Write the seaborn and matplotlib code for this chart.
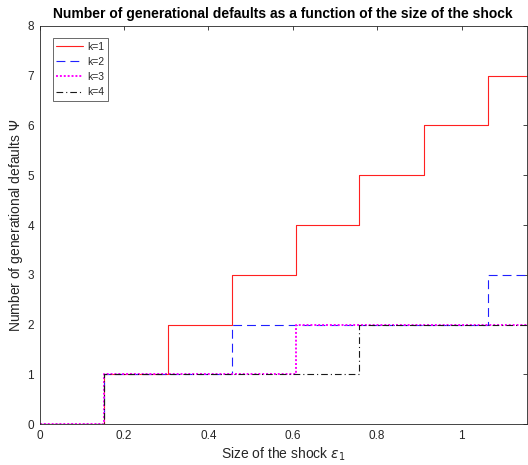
import matplotlib
matplotlib.use("Agg")
import matplotlib.pyplot as plt
import seaborn as sns
import pandas as pd
import numpy as np

sns.set_style("white")
plt.rcParams['font.family'] = ['Liberation Sans', 'DejaVu Sans']
plt.rcParams['mathtext.fontset'] = 'dejavusans'

# Step data: x positions where the number of defaults changes, and the levels
k1_x = [0, 0.152, 0.304, 0.455, 0.607, 0.758, 0.91, 1.062, 1.155]
k1_y = [0, 1, 2, 3, 4, 5, 6, 7, 7]
k2_x = [0, 0.152, 0.455, 1.062, 1.155]
k2_y = [0, 1, 2, 3, 3]
k3_x = [0, 0.152, 0.607, 1.155]
k3_y = [0, 1, 2, 2]
k4_x = [0, 0.152, 0.758, 1.155]
k4_y = [0, 1, 2, 2]

labels = ["k=1", "k=2", "k=3", "k=4"]
xs = [k1_x, k2_x, k3_x, k4_x]
ys = [k1_y, k2_y, k3_y, k4_y]
colors = ["#ff2020", "#2020ff", "#ff00ff", "#1a1a1a"]
styles = ["-", (0, (8, 4.5)), (0, (1, 1)), (0, (6, 2.7, 1, 2.7))]
widths = [0.8, 0.8, 1.4, 0.8]

df = pd.concat([pd.DataFrame({"x": x, "y": y, "k": l}) for x, y, l in zip(xs, ys, labels)])

fig = plt.figure(figsize=(5.28, 4.65), dpi=100)
ax = fig.add_axes([39.5 / 528, 41 / 465, (527 - 39.5) / 528, (424 - 26) / 465])

for l, c, s, w in zip(labels, colors, styles, widths):
    sub = df[df.k == l]
    sns.lineplot(data=sub, x="x", y="y", ax=ax, drawstyle="steps-post", color=c,
                 linestyle=s, linewidth=w, label=l, estimator=None, sort=False)

ax.set_xlim(0, 1.155)
ax.set_ylim(0, 8)
ax.set_xticks([0, 0.2, 0.4, 0.6, 0.8, 1])
ax.set_xticklabels(["0", "0.2", "0.4", "0.6", "0.8", "1"])
ax.set_yticks(range(0, 9))
tc = "#262626"
ax.tick_params(direction="in", length=3, width=0.6, top=True, right=True,
               labelsize=8.5, colors=tc, labelcolor=tc, pad=4)
for sp in ax.spines.values():
    sp.set_visible(True)
    sp.set_color(tc)
    sp.set_linewidth(0.6)

ax.set_xlabel(r"Size of the shock $\epsilon_1$", fontsize=10, color=tc, labelpad=3)
ax.set_ylabel(r"Number of generational defaults $\Psi$", fontsize=10, color=tc, labelpad=2)
ax.set_title("Number of generational defaults as a function of the size of the shock",
             fontsize=10, fontweight="bold", color="black", pad=6)

leg = ax.legend(loc="upper left", bbox_to_anchor=(0.027, 0.970), fontsize=7.5,
                frameon=True, fancybox=False, handlelength=2.6, handletextpad=0.35,
                borderpad=0.35, labelspacing=0.5, borderaxespad=0)
leg.get_frame().set_edgecolor(tc)
leg.get_frame().set_linewidth(0.6)

fig.savefig("out.png", dpi=100)
